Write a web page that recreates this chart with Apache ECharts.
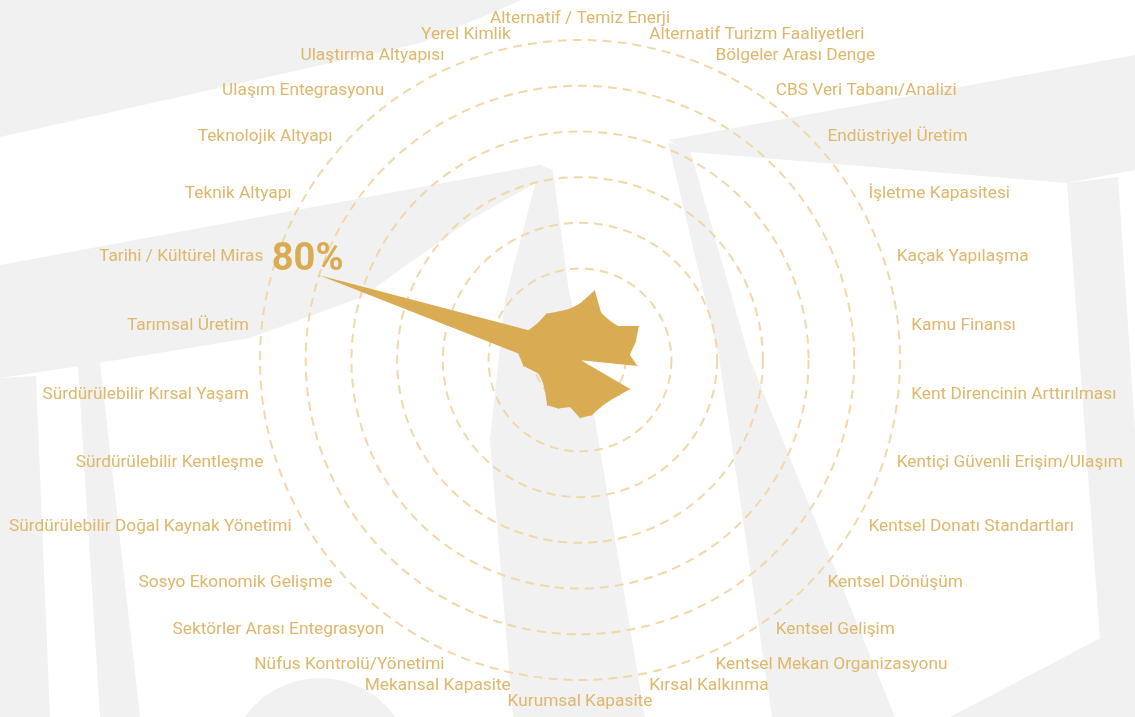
<!DOCTYPE html>
<html>
<head>
<meta charset="utf-8">
<title>Radar</title>
<script src="https://cdn.jsdelivr.net/npm/echarts@6/dist/echarts.min.js"></script>
<style>
  html, body { margin: 0; padding: 0; background: #fff; }
  #chart { width: 1135px; height: 717px; }
</style>
</head>
<body>
<div id="chart"></div>
<script>
// indicators, clockwise from the top
const indicatorNames = [
  'Alternatif / Temiz Enerji',
  'Alternatif Turizm Faaliyetleri',
  'Bölgeler Arası Denge',
  'CBS Veri Tabanı/Analizi',
  'Endüstriyel Üretim',
  'İşletme Kapasitesi',
  'Kaçak Yapılaşma',
  'Kamu Finansı',
  'Kent Direncinin Arttırılması',
  'Kentiçi Güvenli Erişim/Ulaşım',
  'Kentsel Donatı Standartları',
  'Kentsel Dönüşüm',
  'Kentsel Gelişim',
  'Kentsel Mekan Organizasyonu',
  'Kırsal Kalkınma',
  'Kurumsal Kapasite',
  'Mekansal Kapasite',
  'Nüfus Kontrolü/Yönetimi',
  'Sektörler Arası Entegrasyon',
  'Sosyo Ekonomik Gelişme',
  'Sürdürülebilir Doğal Kaynak Yönetimi',
  'Sürdürülebilir Kentleşme',
  'Sürdürülebilir Kırsal Yaşam',
  'Tarımsal Üretim',
  'Tarihi / Kültürel Miras',
  'Teknik Altyapı',
  'Teknolojik Altyapı',
  'Ulaşım Entegrasyonu',
  'Ulaştırma Altyapısı',
  'Yerel Kimlik'
];

// values (%), same order
const values = [
  16.5, 20.8, 15.1, 14.4, 14.8, 19.8, 17.1, 14.6, 16.8, 0.3,
  16.9, 15.4, 14.7, 15.0, 16.5, 16.9, 14.0, 15.5, 16.3, 13.7,
  12.6, 12.7, 16.6, 18.1, 80, 17.3, 16.3, 16.7, 15.5, 15.2
];

// outer ring value: 80 sits on the 6th of 7 rings
const axisMax = 80 * 7 / 6;

// echarts lays indicators out counter-clockwise, so walk the list backwards
const n = indicatorNames.length;
const order = indicatorNames.map((_, k) => (n - k) % n);

// light grey watermark behind the chart (decoration only)
const watermark = [
  [[0, 0], [522, 0], [420, 43], [0, 137]],
  [[0, 265], [540, 165], [550, 175], [470, 220], [362, 297], [250, 338], [80, 366], [0, 378]],
  [[540, 165], [553, 170], [568, 285], [595, 420], [645, 717], [513, 717], [490, 440], [505, 300]],
  [[668, 140], [1135, 55], [1135, 170], [1067, 183], [690, 152]],
  [[668, 142], [690, 150], [749, 357], [895, 717], [772, 717], [719, 357]],
  [[1067, 183], [1118, 177], [1135, 430], [1135, 640], [1100, 640]],
  [[950, 717], [1135, 620], [1135, 717]],
  [[0, 378], [36, 376], [50, 717], [0, 717]],
  [[78, 366], [100, 362], [140, 717], [100, 717]]
];

const graphic = watermark.map(pts => ({
  type: 'polygon', silent: true, z: -10,
  shape: { points: pts },
  style: { fill: '#f1f1f1' }
}));
graphic.push({
  type: 'circle', silent: true, z: -10,
  shape: { cx: 320, cy: 770, r: 92 },
  style: { fill: '#f1f1f1' }
});

const chart = echarts.init(document.getElementById('chart'));
chart.setOption({
  backgroundColor: '#ffffff',
  animation: false,
  graphic: graphic,
  radar: {
    center: [580, 360],
    radius: 320,
    startAngle: 90,
    splitNumber: 7,
    shape: 'circle',
    nameGap: 13,
    indicator: order.map(i => ({ name: indicatorNames[i], max: axisMax, min: 0 })),
    axisName: {
      color: '#deb76b',
      fontSize: 17.3,
      fontFamily: 'Roboto'
    },
    axisLine: { show: false },
    axisTick: { show: false },
    axisLabel: { show: false },
    splitArea: { show: false },
    splitLine: {
      lineStyle: { color: '#f0d8a8', width: 2, type: [9, 6] }
    }
  },
  series: [{
    type: 'radar',
    symbol: 'circle',
    symbolSize: 1,
    itemStyle: { color: '#d9ab52' },
    lineStyle: { width: 0, opacity: 0 },
    areaStyle: { color: '#d9ab52', opacity: 1 },
    label: {
      show: true,
      formatter: p => (p.value >= 50 ? p.value + '%' : ''),
      position: [-11, -14],
      align: 'center',
      verticalAlign: 'middle',
      color: '#d9ab52',
      fontFamily: 'Roboto',
      fontWeight: 'bold',
      fontSize: 38
    },
    data: [{ value: order.map(i => values[i]) }]
  }]
});
</script>
</body>
</html>
